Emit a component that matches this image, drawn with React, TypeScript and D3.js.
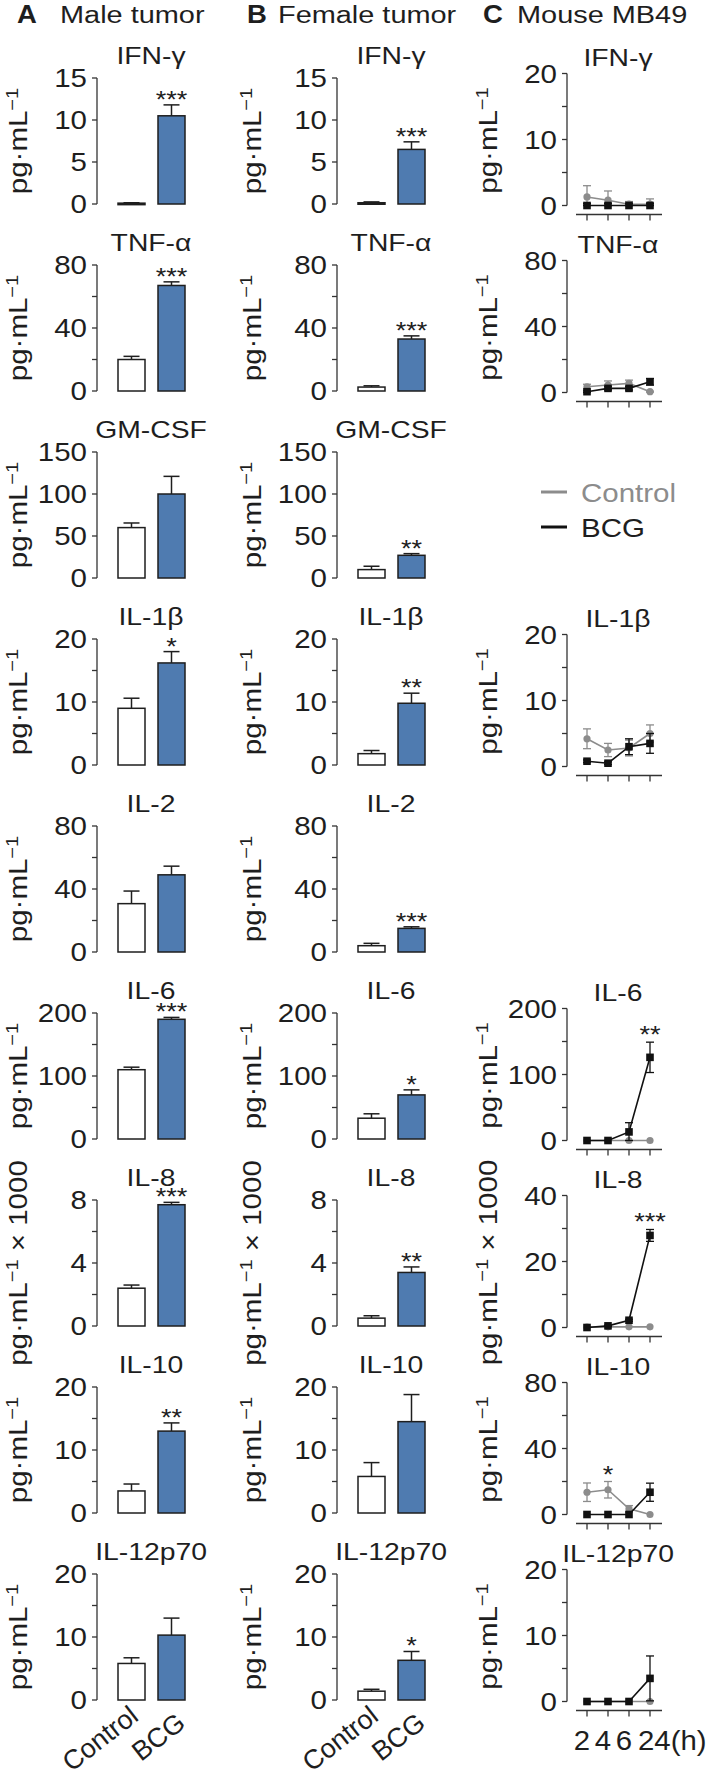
import React from 'react';
import * as d3 from 'd3';

// ---------- data ----------
const cytokines = ['IFN-γ', 'TNF-α', 'GM-CSF', 'IL-1β', 'IL-2', 'IL-6', 'IL-8', 'IL-10', 'IL-12p70'];
const groups = ['Control', 'BCG'];
const yMaxAB = [15, 80, 150, 20, 80, 200, 8, 20, 20];
const yMajorAB = [[0, 5, 10, 15], [0, 40, 80], [0, 50, 100, 150], [0, 10, 20], [0, 40, 80], [0, 100, 200], [0, 4, 8], [0, 10, 20], [0, 10, 20]];
const yMinorAB = [[], [20, 60], [], [5, 15], [20, 60], [50, 150], [2, 6], [5, 15], [5, 15]];
const x1000 = [false, false, false, false, false, false, true, false, false];

const maleCtrl = [0.1, 20, 60, 9.0, 30.7, 110, 2.4, 3.5, 5.8];
const maleCtrlErr = [0.05, 2, 5.5, 1.6, 8, 4, 0.2, 1.1, 0.9];
const maleBCG = [10.5, 67, 100, 16.2, 49, 190, 7.7, 13, 10.3];
const maleBCGErr = [1.3, 2.3, 21, 1.8, 5.5, 3, 0.15, 1.3, 2.7];
const maleSig = ['***', '***', '', '*', '', '***', '***', '**', ''];

const femaleCtrl = [0.15, 2.5, 10, 1.8, 4, 33, 0.5, 5.8, 1.4];
const femaleCtrlErr = [0.1, 0.8, 4, 0.5, 1.5, 7, 0.15, 2.2, 0.3];
const femaleBCG = [6.5, 33, 27, 9.8, 15, 70, 3.4, 14.5, 6.3];
const femaleBCGErr = [0.9, 2, 2, 1.6, 1, 8, 0.35, 4.3, 1.4];
const femaleSig = ['***', '***', '**', '**', '***', '*', '**', '', '*'];

const timePoints = ['2', '4', '6', '24'];
const yMaxC = [20, 80, 0, 20, 0, 200, 40, 80, 20];
const yMajorC = [[0, 10, 20], [0, 40, 80], [], [0, 10, 20], [], [0, 100, 200], [0, 20, 40], [0, 40, 80], [0, 10, 20]];
const yMinorC = [[5, 15], [20, 60], [], [5, 15], [], [50, 150], [10, 30], [20, 60], [5, 15]];
const mouseCtrl: (number[] | null)[] = [
  [1.3, 0.8, 0.2, 0.2],
  [3.5, 4.5, 5.5, 0.5],
  null,
  [4.2, 2.5, 2.8, 5.0],
  null,
  [0, 0, 0, 0],
  [0.1, 0.2, 0.2, 0.2],
  [13.5, 15, 3.4, 0],
  [0, 0, 0, 0],
];
const mouseCtrlErr: (number[] | null)[] = [
  [1.7, 1.4, 0.4, 0.8],
  [1.5, 2.5, 2, 0.3],
  null,
  [1.5, 1.0, 1.2, 1.3],
  null,
  [0, 0, 0, 0],
  [0, 0, 0, 0],
  [5.6, 5, 2, 0],
  [0, 0, 0, 0],
];
const mouseBCG: (number[] | null)[] = [
  [0, 0, 0, 0],
  [0.5, 2.5, 2.5, 6.5],
  null,
  [0.8, 0.5, 3.0, 3.5],
  null,
  [0, 0, 13, 126],
  [0, 0.5, 2.2, 27.9],
  [0, 0, 0, 13.5],
  [0, 0, 0, 3.5],
];
const mouseBCGErr: (number[] | null)[] = [
  [0.3, 0.3, 0.3, 0.3],
  [0.5, 1, 1, 2],
  null,
  [0.2, 0.2, 1.2, 1.5],
  null,
  [0, 0, 14, 23],
  [0, 0.2, 0.3, 1.8],
  [0, 0, 0, 5.5],
  [0, 0, 0, 3.4],
];
const mouseSigIdx = [-1, -1, -1, -1, -1, 3, 3, 1, -1];
const mouseSig = ['', '', '', '', '', '**', '***', '*', ''];

const headers = [
  { letter: 'A', text: 'Male tumor' },
  { letter: 'B', text: 'Female tumor' },
  { letter: 'C', text: 'Mouse MB49' },
];
const legendItems = ['Control', 'BCG'];

// ---------- layout ----------
const W = 709;
const H = 1778;
const FONT = '"Liberation Sans", Arial, Helvetica, sans-serif';
const SX = 1.18;
const axisXs = [97, 337, 567];
const rowY0 = (i: number) => 204 + 187 * i;
const AXH = 126;
const AXH_C = 132;
const BLUE = '#4f7bb0';
const GRAY = '#8c8c8c';
const INK = '#1e1e1e';
const XLAB_DX = [8.5, 15.5];
const XLAB_DY = [19, 26];

function Txt({ x, y, anchor = 'start', size = 24, fill = INK, weight = 'normal', rot = 0, sx = SX, children }: any) {
  const t = `translate(${x},${y})` + (rot ? ` rotate(${rot})` : '') + ` scale(${sx},1)`;
  return (
    <text transform={t} textAnchor={anchor} fontSize={size} fontFamily={FONT} fill={fill} fontWeight={weight}>
      {children}
    </text>
  );
}

function YAxis({ x, scale, major, minor }: any) {
  const top = scale(scale.domain()[1]);
  const bot = scale(0);
  return (
    <g>
      <line x1={x} x2={x} y1={top} y2={bot} stroke="#333" strokeWidth={1.3} />
      {major.map((v: number) => (
        <g key={'M' + v}>
          <line x1={x - 5} x2={x} y1={scale(v)} y2={scale(v)} stroke="#333" strokeWidth={1.3} />
          <Txt x={x - 10} y={scale(v) + 9} anchor="end" size={25}>{v}</Txt>
        </g>
      ))}
      {minor.map((v: number) => (
        <line key={'m' + v} x1={x - 5} x2={x} y1={scale(v)} y2={scale(v)} stroke="#333" strokeWidth={1.3} />
      ))}
    </g>
  );
}

function YLabel({ x, y, times }: any) {
  return (
    <Txt x={x} y={y} anchor="middle" size={25} rot={-90}>
      pg·mL
      <tspan dy={-9} fontSize={17}>−1</tspan>
      {times ? <tspan dy={9}> × 1000</tspan> : null}
    </Txt>
  );
}

function BarPanel({ col, row, ctrl, ctrlErr, bcg, bcgErr, sig, showX }: any) {
  const ax = axisXs[col];
  const y0 = rowY0(row);
  const y = d3.scaleLinear().domain([0, yMaxAB[row]]).range([y0, y0 - AXH]);
  const x = d3.scaleBand().domain(groups).range([ax + 21, ax + 88]).paddingInner(0.325).paddingOuter(0);
  const bw = x.bandwidth();
  const vals = [ctrl, bcg];
  const errs = [ctrlErr, bcgErr];
  const cx = (g: string) => (x(g) as number) + bw / 2;
  return (
    <g>
      <Txt x={ax + 54} y={y0 - 140} anchor="middle" size={24}>{cytokines[row]}</Txt>
      <YAxis x={ax} scale={y} major={yMajorAB[row]} minor={yMinorAB[row]} />
      <YLabel x={ax - 70 - (col === 1 ? 6 : 0)} y={y0 - 63} times={x1000[row]} />
      {groups.map((g, k) => {
        const top = y(vals[k]);
        const et = y(vals[k] + errs[k]);
        return (
          <g key={g}>
            <line x1={cx(g)} x2={cx(g)} y1={top} y2={et} stroke={INK} strokeWidth={1.5} />
            <line x1={cx(g) - 8} x2={cx(g) + 8} y1={et} y2={et} stroke={INK} strokeWidth={1.5} />
            <rect x={x(g)} y={top} width={bw} height={Math.max(y0 - top, 1.5)} fill={k === 0 ? '#ffffff' : BLUE} stroke={INK} strokeWidth={1.5} />
          </g>
        );
      })}
      {sig ? (
        <Txt x={cx('BCG')} y={y(bcg + bcgErr) + 3} anchor="middle" size={23}>{sig}</Txt>
      ) : null}
      {showX
        ? groups.map((g, k) => (
            <Txt key={'xl' + g} x={cx(g) + XLAB_DX[k]} y={y0 + XLAB_DY[k]} anchor="end" size={27} sx={1.0} rot={-38}>{g}</Txt>
          ))
        : null}
    </g>
  );
}

function LinePanel({ row, showX }: any) {
  const ax = axisXs[2];
  const y0 = rowY0(row) + 1.5;
  const y = d3.scaleLinear().domain([0, yMaxC[row]]).range([y0, y0 - AXH_C]);
  const x = d3.scalePoint().domain(timePoints).range([ax + 20, ax + 83]);
  const series = [
    { v: mouseCtrl[row] as number[], e: mouseCtrlErr[row] as number[], color: GRAY, shape: 'circle' },
    { v: mouseBCG[row] as number[], e: mouseBCGErr[row] as number[], color: '#111', shape: 'square' },
  ];
  const line = d3.line<number>().x((_, i) => x(timePoints[i]) as number).y((d) => y(d));
  const sIdx = mouseSigIdx[row];
  let starY = 0;
  if (sIdx >= 0) {
    const top = Math.max(...series.map((s) => s.v[sIdx] + s.e[sIdx]));
    starY = y(top) + 1;
  }
  const xAxisY = y0 + 9;
  return (
    <g>
      <Txt x={ax + 51} y={y0 - 140} anchor="middle" size={24}>{cytokines[row]}</Txt>
      <YAxis x={ax} scale={y} major={yMajorC[row]} minor={yMinorC[row]} />
      <YLabel x={ax - 70} y={y0 - 65} times={x1000[row]} />
      <line x1={ax + 9} x2={ax + 95} y1={xAxisY} y2={xAxisY} stroke="#333" strokeWidth={1.3} />
      {timePoints.map((t) => (
        <line key={t} x1={x(t)} x2={x(t)} y1={xAxisY} y2={xAxisY + 6} stroke="#333" strokeWidth={1.3} />
      ))}
      {series.map((s, si) => (
        <g key={si}>
          <path d={line(s.v) as string} fill="none" stroke={s.color} strokeWidth={1.6} />
          {s.v.map((v, i) => {
            const px = x(timePoints[i]) as number;
            const e = s.e[i];
            return (
              <g key={i}>
                {e > 0 ? (
                  <g stroke={s.color} strokeWidth={1.3}>
                    <line x1={px} x2={px} y1={y(v + e)} y2={y(Math.max(v - e, 0))} />
                    <line x1={px - 4} x2={px + 4} y1={y(v + e)} y2={y(v + e)} />
                    <line x1={px - 4} x2={px + 4} y1={y(Math.max(v - e, 0))} y2={y(Math.max(v - e, 0))} />
                  </g>
                ) : null}
                {s.shape === 'circle' ? (
                  <circle cx={px} cy={y(v)} r={3.6} fill={s.color} />
                ) : (
                  <rect x={px - 3.8} y={y(v) - 3.8} width={7.6} height={7.6} fill={s.color} />
                )}
              </g>
            );
          })}
        </g>
      ))}
      {sIdx >= 0 ? (
        <Txt x={x(timePoints[sIdx])} y={starY} anchor="middle" size={23}>{mouseSig[row]}</Txt>
      ) : null}
      {showX ? (
        <g>
          {timePoints.map((t, i) =>
            i < 3 ? (
              <Txt key={'tl' + t} x={(x(t) as number) - 5} y={xAxisY + 39} anchor="middle" size={28} sx={1.05}>{t}</Txt>
            ) : (
              <Txt key={'tl' + t} x={(x(t) as number) - 12} y={xAxisY + 39} anchor="start" size={28} sx={1.05}>{t}(h)</Txt>
            )
          )}
        </g>
      ) : null}
    </g>
  );
}

function Legend({ row }: any) {
  const ax = axisXs[2];
  const y0 = rowY0(row);
  const colors = [GRAY, '#111'];
  return (
    <g>
      {legendItems.map((name, i) => {
        const ly = y0 - 86 + i * 35;
        return (
          <g key={name}>
            <line x1={ax - 26} x2={ax} y1={ly} y2={ly} stroke={colors[i]} strokeWidth={3} />
            <Txt x={ax + 14} y={ly + 10} size={25} fill={i === 0 ? GRAY : INK}>{name}</Txt>
          </g>
        );
      })}
    </g>
  );
}

export default function App() {
  const last = cytokines.length - 1;
  return (
    <svg width={W} height={H} viewBox={`0 0 ${W} ${H}`} style={{ position: 'absolute', left: 0, top: 0, background: '#fff' }}>
      <rect width={W} height={H} fill="#fff" />
      {headers.map((h, i) => {
        const lx = [17, 247, 483][i];
        const tx = [60, 278, 517][i];
        return (
          <g key={h.letter}>
            <Txt x={lx} y={23} size={25} weight="bold" sx={1.1}>{h.letter}</Txt>
            <Txt x={tx} y={23} size={24.5}>{h.text}</Txt>
          </g>
        );
      })}
      {cytokines.map((c, r) => (
        <g key={c}>
          <BarPanel col={0} row={r} ctrl={maleCtrl[r]} ctrlErr={maleCtrlErr[r]} bcg={maleBCG[r]} bcgErr={maleBCGErr[r]} sig={maleSig[r]} showX={r === last} />
          <BarPanel col={1} row={r} ctrl={femaleCtrl[r]} ctrlErr={femaleCtrlErr[r]} bcg={femaleBCG[r]} bcgErr={femaleBCGErr[r]} sig={femaleSig[r]} showX={r === last} />
          {mouseCtrl[r] ? <LinePanel row={r} showX={r === last} /> : null}
        </g>
      ))}
      <Legend row={2} />
    </svg>
  );
}
